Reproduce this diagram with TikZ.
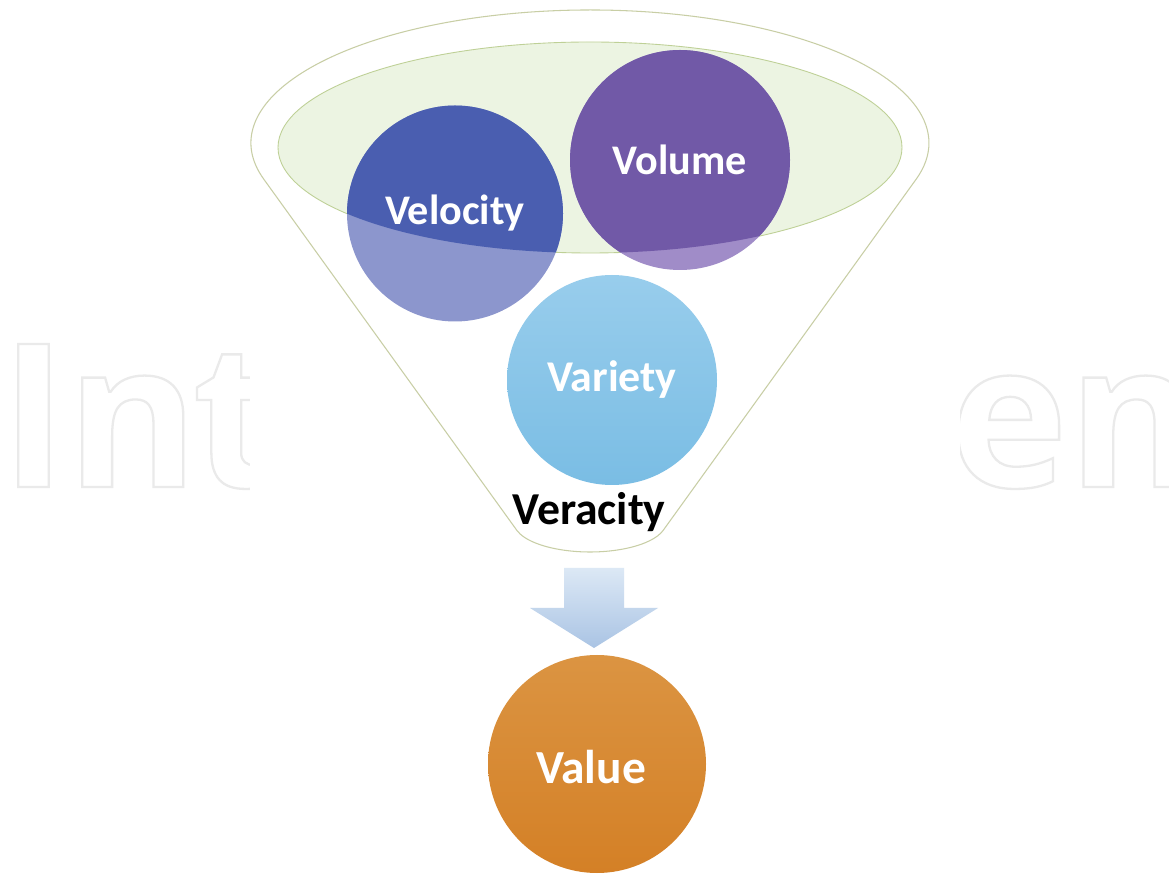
\documentclass[tikz,border=0pt]{standalone}
\usepackage{fontspec}
\setmainfont{Carlito}
\newfontfamily\markfont{Open Sans}
\usepackage{xcolor}
\usepackage{tikz}
\usetikzlibrary{positioning}

\definecolor{velocityblue}{RGB}{74,94,176}
\definecolor{velocitypale}{RGB}{140,150,205}
\definecolor{volumepurple}{RGB}{113,89,167}
\definecolor{volumepale}{RGB}{160,140,200}
\definecolor{varietytop}{RGB}{152,205,236}
\definecolor{varietyblue}{RGB}{122,189,228}
\definecolor{valuetop}{RGB}{219,148,66}
\definecolor{valueorange}{RGB}{212,128,38}
\definecolor{funnelline}{RGB}{200,206,165}
\definecolor{rimgreen}{RGB}{236,244,226}
\definecolor{rimline}{RGB}{190,208,150}
\definecolor{arrowtop}{RGB}{220,232,245}
\definecolor{arrowbottom}{RGB}{170,196,228}
\definecolor{markgray}{RGB}{234,234,234}

\newcommand{\outlined}[1]{\special{pdf:literal direct 1 Tr 1.3 w}#1\special{pdf:literal direct 0 Tr}}
\newcommand{\labelsize}[1]{\bfseries\fontsize{#1}{#1}\selectfont}

\begin{document}
\begin{tikzpicture}[
    ball/.style={circle, minimum size=#1, inner sep=0pt},
    vlabel/.style={text=white, font=\labelsize{#1}},
    watermark/.style={anchor=base west, inner sep=0pt, text=markgray, font=\markfont\bfseries\fontsize{114}{114}\selectfont},
  ]
    \useasboundingbox (0,0) rectangle (23.38,17.46);
    \fill[white] (0,0) rectangle (23.38,17.46);

    % Watermark
    \node[watermark] (markleft) at (0,7.72) {\outlined{In\kern-0.03em t}};
    \node[watermark] (markright) at (18.98,7.72) {\outlined{en}};
    \fill[white] (5.0,0) rectangle (19.2,17.46);

    % Funnel
    \draw[funnelline, line width=0.6pt, fill=white] (5.275,13.877)
        arc[start angle=195.77, end angle=-15.77, x radius=6.78, y radius=2.66]
        -- (13.263,6.852)
        arc[start angle=-15.77, end angle=-164.23, x radius=1.52, y radius=0.593]
        -- cycle;
    \draw[rimline, fill=rimgreen, line width=0.5pt] (11.8,14.51) ellipse [x radius=6.24, y radius=2.11];

    % Circles
    \node[ball=4.32cm, fill=velocitypale] (velocity) at (9.10,13.19) {};
    \node[ball=4.4cm, fill=volumepale] (volume) at (13.60,14.26) {};
    \node[ball=4.2cm, top color=varietytop, bottom color=varietyblue] (variety) at (12.24,9.86) {};
    \node[ball=4.36cm, top color=valuetop, bottom color=valueorange] (value) at (11.94,2.18) {};

    % Inside the rim
    \begin{scope}
        \clip (11.8,14.51) ellipse [x radius=6.24, y radius=2.11];
        \fill[velocityblue] (velocity) circle (2.16);
        \fill[volumepurple] (volume) circle (2.2);
    \end{scope}

    % Labels
    \node[vlabel=24] (velocitytext) at (velocity) {Velocity};
    \node[vlabel=24] (volumetext) at (volume) {Volume};
    \node[vlabel=25] (varietytext) at (variety) {Variety};
    \node[vlabel=27] (valuetext) at ([xshift=-0.12cm, yshift=-0.06cm]value) {Value};
    \node[font=\labelsize{26}] (veracity) at (11.78,7.22) {Veracity};

    % Arrow
    \shade[top color=arrowtop, bottom color=arrowbottom] (11.28,6.10) -- (12.48,6.10) -- (12.48,5.30)
        -- (13.16,5.30) -- (11.88,4.50) -- (10.60,5.30) -- (11.28,5.30) -- cycle;
\end{tikzpicture}
\end{document}
